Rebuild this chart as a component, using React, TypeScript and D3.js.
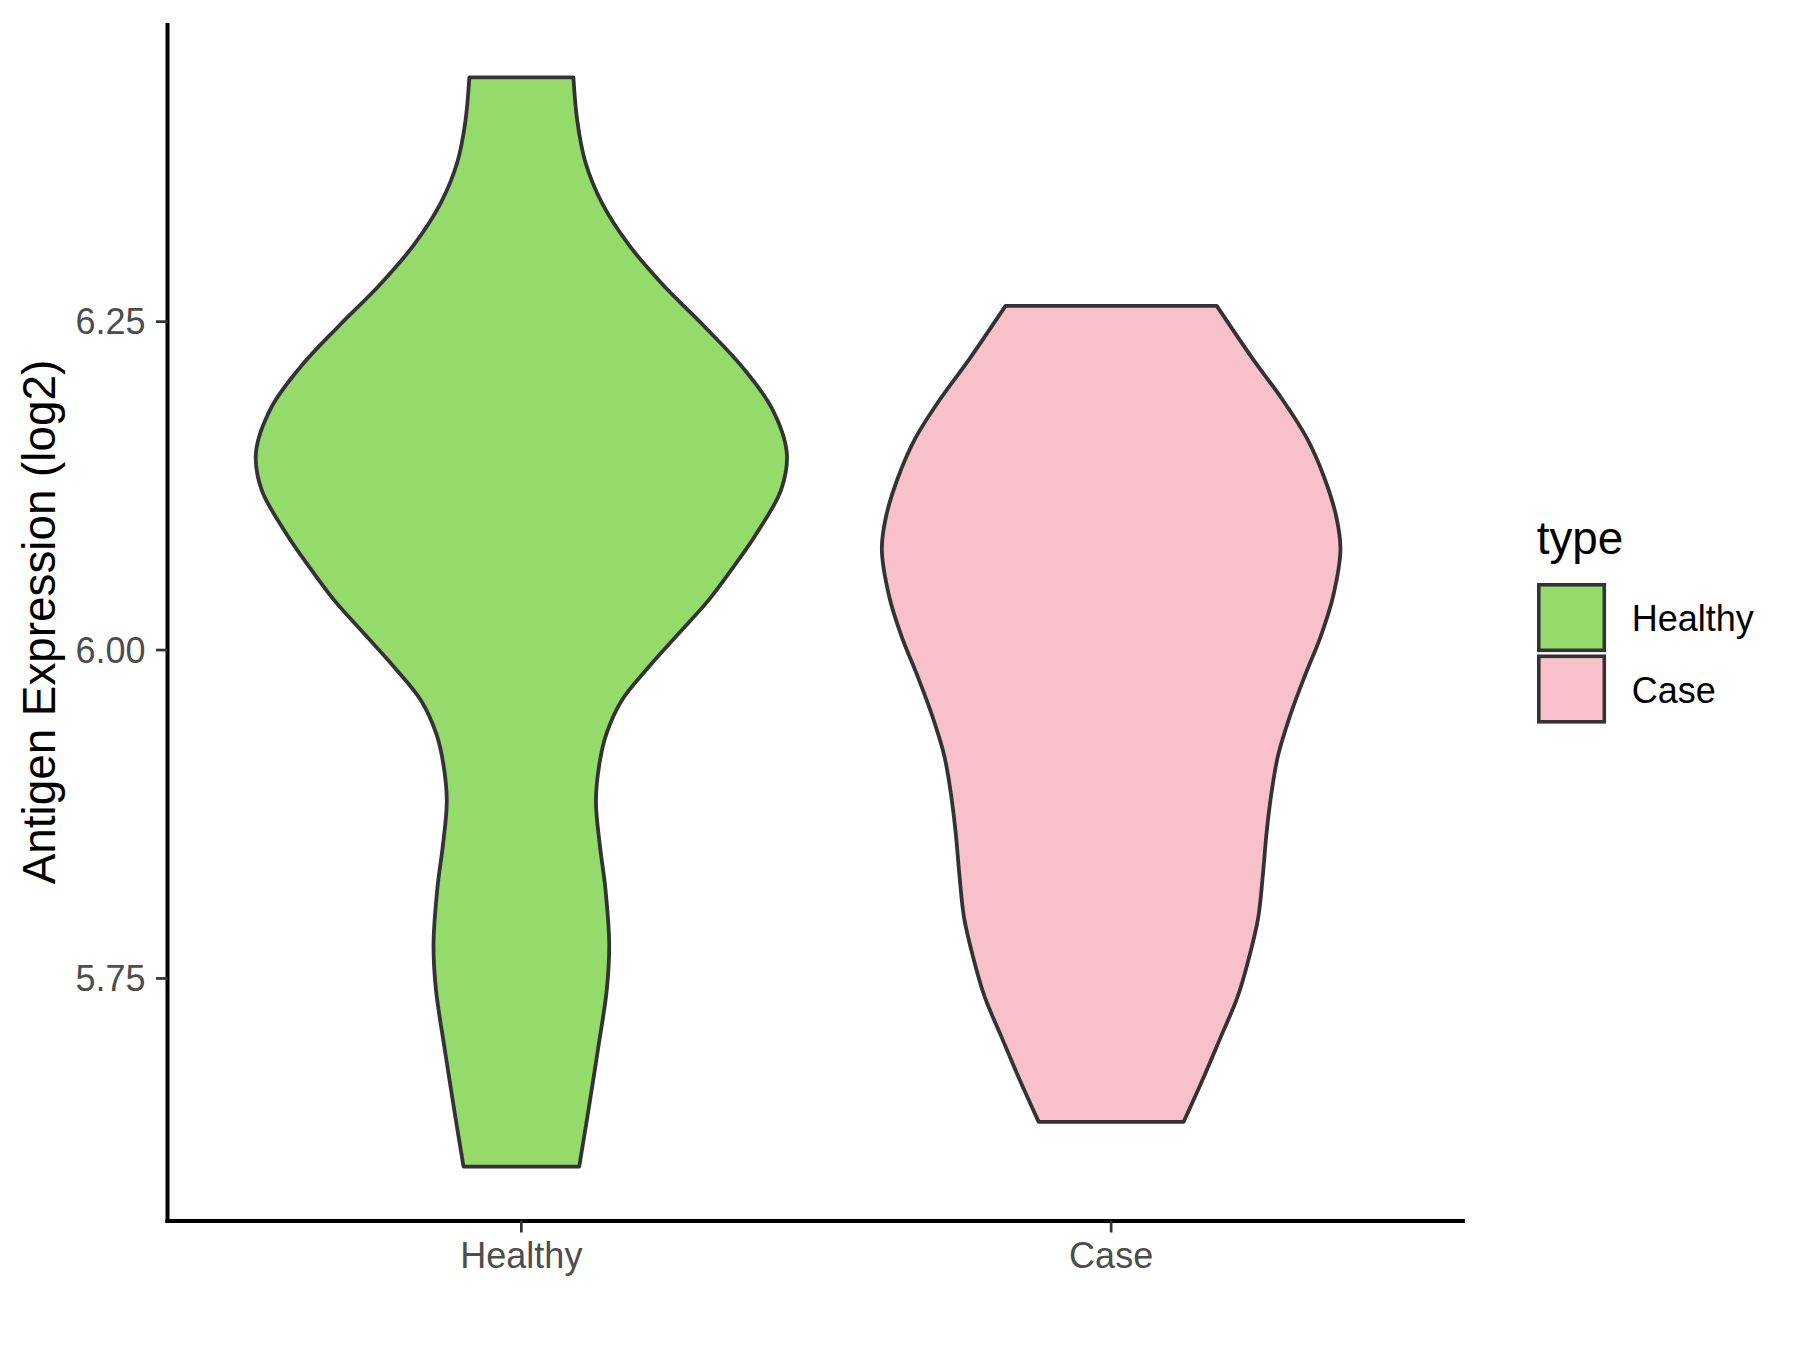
import React from "react";
import * as d3 from "d3";

// ---- data ----
const categories = ["Healthy", "Case"];
const fillColors = ["#94DB6B", "#F7C0CB"];

// Healthy violin outline: expression value and relative density (half-width)
const healthyValues = [6.4359, 6.4023, 6.3715, 6.3402, 6.309, 6.2777, 6.2465, 6.2156, 6.1847, 6.1504, 6.1222, 6.0884, 6.063, 6.0376, 6.0122, 5.9867, 5.9613, 5.936, 5.9133, 5.8851, 5.8508, 5.8195, 5.7761, 5.7418, 5.6952, 5.6487, 5.6068];
const healthyDensity = [0.196, 0.211, 0.241, 0.304, 0.403, 0.535, 0.689, 0.832, 0.942, 1.0, 0.979, 0.885, 0.798, 0.704, 0.591, 0.478, 0.377, 0.32, 0.294, 0.281, 0.296, 0.316, 0.331, 0.322, 0.288, 0.252, 0.218];

// Case violin outline
const caseValues = [6.262, 6.2213, 6.1911, 6.1611, 6.1308, 6.1009, 6.0765, 6.0406, 6.0101, 5.9804, 5.9499, 5.9198, 5.8897, 5.8595, 5.8294, 5.7961, 5.7662, 5.7357, 5.7059, 5.6754, 5.6408];
const caseDensity = [0.398, 0.535, 0.644, 0.738, 0.804, 0.849, 0.864, 0.836, 0.789, 0.73, 0.674, 0.629, 0.603, 0.585, 0.572, 0.554, 0.52, 0.476, 0.414, 0.35, 0.273];

const yTicks = [5.75, 6.0, 6.25];
const yLabel = "Antigen Expression (log2)";
const legendTitle = "type";

const FONT = "'Liberation Sans', Arial, Helvetica, sans-serif";

export default function App() {
  const width = 1800;
  const height = 1350;
  const left = 167.5;
  const right = 1465;
  const top = 23;
  const bottom = 1221;

  const series = [
    { name: categories[0], values: healthyValues, dens: healthyDensity, fill: fillColors[0] },
    { name: categories[1], values: caseValues, dens: caseDensity, fill: fillColors[1] },
  ];

  const allVals = [...healthyValues, ...caseValues];
  const vmin = d3.min(allVals) as number;
  const vmax = d3.max(allVals) as number;
  const pad = (vmax - vmin) * 0.05;
  const y = d3.scaleLinear().domain([vmin - pad, vmax + pad]).range([bottom, top]);

  const x = d3.scalePoint<string>().domain(categories).range([left, right]).padding(0.6);
  const step = x.step();
  const maxDens = d3.max([...healthyDensity, ...caseDensity]) as number;
  const w = d3.scaleLinear().domain([0, maxDens]).range([0, 0.45 * step]);

  const tickColor = "#333333";
  const outline = "#333333";

  return (
    <svg
      width={width}
      height={height}
      style={{ position: "absolute", left: 0, top: 0, background: "#fff" }}
      fontFamily={FONT}
    >
      <rect x={0} y={0} width={width} height={height} fill="#fff" />
      {series.map((s) => {
        const cx = x(s.name) as number;
        const pts = s.values.map((v, i) => ({ v, d: s.dens[i] }));
        const area = d3
          .area<{ v: number; d: number }>()
          .y((p) => y(p.v))
          .x0((p) => cx - w(p.d))
          .x1((p) => cx + w(p.d))
          .curve(d3.curveCatmullRom.alpha(0.5));
        return (
          <path
            key={s.name}
            d={area(pts) || ""}
            fill={s.fill}
            stroke={outline}
            strokeWidth={3.8}
            strokeLinejoin="round"
          />
        );
      })}

      {/* axes */}
      <line x1={left} x2={left} y1={top} y2={bottom + 2} stroke="#000" strokeWidth={4} />
      <line x1={left - 2} x2={right} y1={bottom} y2={bottom} stroke="#000" strokeWidth={4} />
      {yTicks.map((t) => (
        <g key={t}>
          <line x1={left - 11.5} x2={left} y1={y(t)} y2={y(t)} stroke={tickColor} strokeWidth={2.7} />
          <text
            x={left - 22}
            y={y(t)}
            dy="0.35em"
            textAnchor="end"
            fontSize={36}
            fill="#4D4D4D"
          >
            {d3.format(".2f")(t)}
          </text>
        </g>
      ))}
      {categories.map((c) => (
        <g key={c}>
          <line x1={x(c)} x2={x(c)} y1={bottom} y2={bottom + 11.5} stroke={tickColor} strokeWidth={2.7} />
          <text x={x(c)} y={1268} textAnchor="middle" fontSize={36} fill="#4D4D4D">
            {c}
          </text>
        </g>
      ))}
      <text
        transform={`translate(55, ${(top + bottom) / 2}) rotate(-90)`}
        textAnchor="middle"
        fontSize={45.8}
        fill="#000"
      >
        {yLabel}
      </text>

      {/* legend */}
      <text x={1536.7} y={554} fontSize={45.8} fill="#000">
        {legendTitle}
      </text>
      {series.map((s, i) => (
        <g key={s.name}>
          <rect
            x={1538.8}
            y={584.8 + i * 71.5}
            width={65.5}
            height={65.5}
            fill={s.fill}
            stroke={outline}
            strokeWidth={3.6}
          />
          <text x={1631.7} y={631 + i * 71.6} fontSize={36} fill="#000">
            {s.name}
          </text>
        </g>
      ))}
    </svg>
  );
}
